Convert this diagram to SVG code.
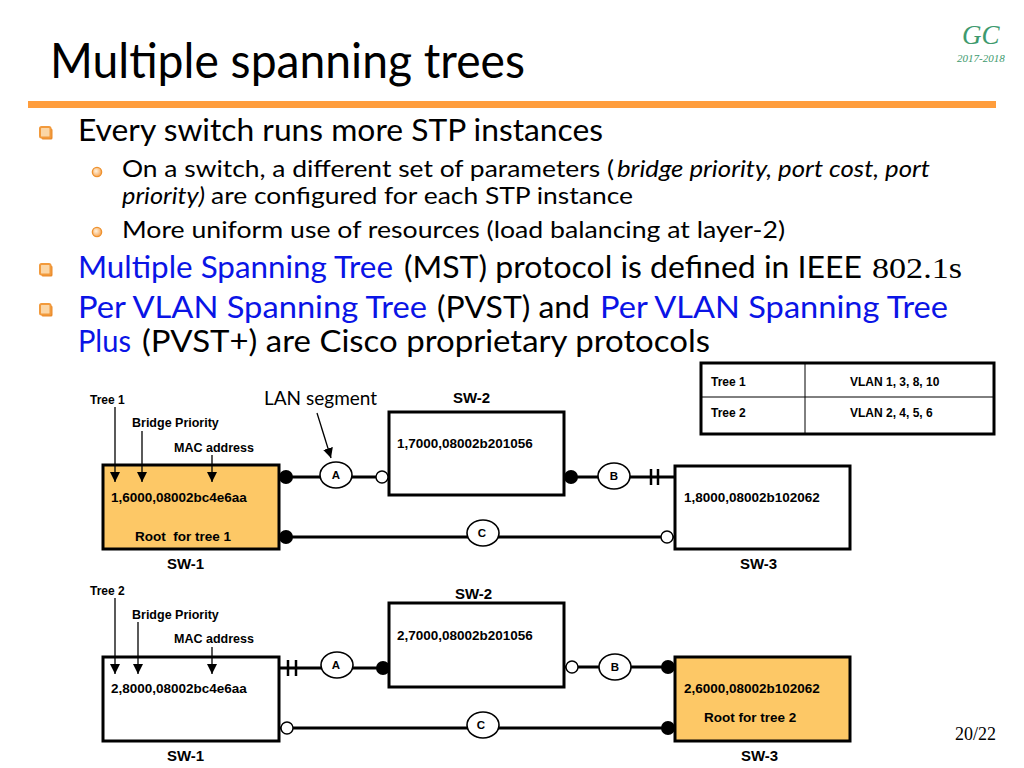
<svg xmlns="http://www.w3.org/2000/svg" width="1024" height="768" viewBox="0 0 1024 768">
<style>
.body{font-family:Lato,"Open Sans","DejaVu Sans",sans-serif;fill:#000}
.blue{fill:#0A14E6}
.it{font-style:italic}
.lbl{font-family:"Liberation Sans",Arial,sans-serif;font-weight:bold;fill:#000}
.box{stroke:#000;stroke-width:3;fill:#fff}
.root{fill:#FDC866}
.ln{stroke:#000;stroke-width:3;fill:none}
.thin{stroke:#000;stroke-width:1.3;fill:none}
.seg{fill:#fff;stroke:#000;stroke-width:1.6}
.dot{fill:#000}
.port{fill:#fff;stroke:#000;stroke-width:1.4}
.blk{stroke:#000;stroke-width:2.5}
</style>
<defs>
<marker id="ah" viewBox="0 0 10 10" refX="10" refY="5" markerWidth="10" markerHeight="10" markerUnits="userSpaceOnUse" orient="auto"><path d="M0,0 L10,5 L0,10 z" fill="#000"/></marker>
<g id="sq"><rect x="1.5" y="1.5" width="11" height="11" rx="1.5" fill="#E98A2A"/><rect x="0" y="0" width="10.5" height="10.5" rx="1.5" fill="#FBD6A6" stroke="#F29A3C" stroke-width="2"/></g>
<radialGradient id="cg" cx="0.4" cy="0.4" r="0.6"><stop offset="0" stop-color="#FFF3E0"/><stop offset="1" stop-color="#F7A85A"/></radialGradient>
<g id="ci"><circle cx="0" cy="0" r="4.6" fill="url(#cg)" stroke="#EE922F" stroke-width="1.4"/></g>
</defs>
<rect width="1024" height="768" fill="#fff"/>

<!-- header -->
<g id="header">
<text x="50" y="78" class="body" font-size="48" textLength="475" lengthAdjust="spacingAndGlyphs">Multiple spanning trees</text>
<text x="962" y="44" font-family="'Liberation Serif',serif" font-style="italic" font-size="27" fill="#3E9A6E">GC</text>
<text x="957" y="62" font-family="'Liberation Serif',serif" font-style="italic" font-size="11" fill="#3E9A6E">2017-2018</text>
<rect x="28" y="101" width="968" height="7" fill="#FF9D3C"/>
</g>

<!-- bullet text -->
<g id="bullets">
<use href="#sq" x="40" y="127"/>
<text class="body" font-size="30" y="141"><tspan x="78" textLength="525" lengthAdjust="spacingAndGlyphs">Every switch runs more STP instances</tspan></text>
<use href="#ci" x="97" y="172"/>
<text class="body" font-size="24" y="177"><tspan x="122" textLength="492" lengthAdjust="spacingAndGlyphs">On a switch, a different set of parameters (</tspan><tspan x="617" class="it" textLength="313" lengthAdjust="spacingAndGlyphs">bridge priority, port cost, port</tspan></text>
<text class="body" font-size="24" y="204"><tspan x="122" class="it" textLength="83" lengthAdjust="spacingAndGlyphs">priority)</tspan><tspan x="211" textLength="422" lengthAdjust="spacingAndGlyphs">are configured for each STP instance</tspan></text>
<use href="#ci" x="97" y="232"/>
<text class="body" font-size="24" y="238"><tspan x="122" textLength="663" lengthAdjust="spacingAndGlyphs">More uniform use of resources (load balancing at layer-2)</tspan></text>
<use href="#sq" x="40" y="264"/>
<text class="body" font-size="30" y="278"><tspan x="78" class="blue" textLength="315" lengthAdjust="spacingAndGlyphs">Multiple Spanning Tree</tspan><tspan x="404" textLength="458" lengthAdjust="spacingAndGlyphs">(MST) protocol is defined in IEEE</tspan><tspan x="872" font-family="'Liberation Serif',serif" textLength="90" lengthAdjust="spacingAndGlyphs">802.1s</tspan></text>
<use href="#sq" x="40" y="304"/>
<text class="body" font-size="30" y="318"><tspan x="78" class="blue" textLength="349" lengthAdjust="spacingAndGlyphs">Per VLAN Spanning Tree</tspan><tspan x="437" textLength="153" lengthAdjust="spacingAndGlyphs">(PVST) and</tspan><tspan x="600" class="blue" textLength="348" lengthAdjust="spacingAndGlyphs">Per VLAN Spanning Tree</tspan></text>
<text class="body" font-size="30" y="352"><tspan x="78" class="blue" textLength="53" lengthAdjust="spacingAndGlyphs">Plus</tspan><tspan x="142" textLength="568" lengthAdjust="spacingAndGlyphs">(PVST+) are Cisco proprietary protocols</tspan></text>
</g>

<!-- VLAN table -->
<g id="vlan-table">
<rect x="701" y="363" width="293" height="71" fill="#fff" stroke="#000" stroke-width="3"/>
<line x1="805" y1="363" x2="805" y2="434" stroke="#000" stroke-width="1"/>
<line x1="701" y1="397" x2="994" y2="397" stroke="#000" stroke-width="1"/>
<text class="lbl" font-size="12" x="711" y="386">Tree 1</text>
<text class="lbl" font-size="12" x="850" y="386">VLAN 1, 3, 8, 10</text>
<text class="lbl" font-size="12" x="711" y="417">Tree 2</text>
<text class="lbl" font-size="12" x="850" y="417">VLAN 2, 4, 5, 6</text>
</g>

<g id="connectors">
<!-- tree 1 -->
<line class="ln" x1="279" y1="477" x2="389" y2="477"/>
<line class="ln" x1="564" y1="477" x2="675" y2="477"/>
<line class="ln" x1="279" y1="537" x2="675" y2="537"/>
<!-- tree 2 -->
<line class="ln" x1="279" y1="668" x2="389" y2="668"/>
<line class="ln" x1="564" y1="667" x2="675" y2="667"/>
<line class="ln" x1="279" y1="728" x2="675" y2="728"/>
</g>

<!-- ===== Tree 1 ===== -->
<g id="labels-t1">
<text class="lbl" font-size="12" x="90" y="404">Tree 1</text>
<text class="lbl" font-size="12.5" x="132" y="427">Bridge Priority</text>
<text class="lbl" font-size="12.5" x="174" y="452">MAC address</text>
<text class="body" font-size="19" x="264" y="405">LAN segment</text>
</g>

<g id="sw1-t1">
<rect class="box root" x="103" y="465" width="176" height="84"/>
<text class="lbl" font-size="13.5" x="111" y="502">1,6000,08002bc4e6aa</text>
<text class="lbl" font-size="13.5" x="135" y="541" xml:space="preserve">Root  for tree 1</text>
<text class="lbl" font-size="15" x="167" y="569">SW-1</text>
</g>
<g id="sw2-t1">
<rect class="box" x="389" y="412" width="175" height="83"/>
<text class="lbl" font-size="13.5" x="397" y="448">1,7000,08002b201056</text>
<text class="lbl" font-size="15" x="453" y="403">SW-2</text>
</g>
<g id="sw3-t1">
<rect class="box" x="675" y="466" width="175" height="83"/>
<text class="lbl" font-size="13.5" x="684" y="502">1,8000,08002b102062</text>
<text class="lbl" font-size="15" x="740" y="569">SW-3</text>
</g>

<g id="ports-t1">
<circle class="dot" cx="286" cy="477" r="7"/>
<circle class="port" cx="382" cy="477" r="6"/>
<circle class="dot" cx="571" cy="477" r="7"/>
<line class="blk" x1="651" y1="469" x2="651" y2="485"/>
<line class="blk" x1="658" y1="469" x2="658" y2="485"/>
<circle class="dot" cx="286" cy="537" r="7"/>
<circle class="port" cx="667" cy="537" r="6"/>
</g>
<g id="seg-A1"><ellipse class="seg" cx="336" cy="475" rx="16" ry="13"/><text class="lbl" font-size="11.5" x="336" y="479" text-anchor="middle">A</text></g>
<g id="seg-B1"><ellipse class="seg" cx="614" cy="476" rx="16" ry="13"/><text class="lbl" font-size="11.5" x="614" y="480" text-anchor="middle">B</text></g>
<g id="seg-C1"><ellipse class="seg" cx="483" cy="533" rx="16" ry="13"/><text class="lbl" font-size="11.5" x="482" y="537" text-anchor="middle">C</text></g>

<!-- ===== Tree 2 ===== -->
<g id="labels-t2">
<text class="lbl" font-size="12" x="90" y="595">Tree 2</text>
<text class="lbl" font-size="12.5" x="132" y="619">Bridge Priority</text>
<text class="lbl" font-size="12.5" x="174" y="643">MAC address</text>
</g>
<g id="sw1-t2">
<rect class="box" x="103" y="657" width="176" height="84"/>
<text class="lbl" font-size="13.5" x="111" y="693">2,8000,08002bc4e6aa</text>
<text class="lbl" font-size="15" x="167" y="761">SW-1</text>
</g>
<g id="sw2-t2">
<rect class="box" x="389" y="603" width="175" height="84"/>
<text class="lbl" font-size="13.5" x="397" y="640">2,7000,08002b201056</text>
<text class="lbl" font-size="15" x="455" y="599">SW-2</text>
</g>
<g id="sw3-t2">
<rect class="box root" x="675" y="657" width="175" height="84"/>
<text class="lbl" font-size="13.5" x="684" y="693">2,6000,08002b102062</text>
<text class="lbl" font-size="13.5" x="704" y="722">Root for tree 2</text>
<text class="lbl" font-size="15" x="741" y="761">SW-3</text>
</g>
<g id="ports-t2">
<line class="blk" x1="288" y1="660" x2="288" y2="676"/>
<line class="blk" x1="296" y1="660" x2="296" y2="676"/>
<circle class="dot" cx="383" cy="668" r="7"/>
<circle class="port" cx="572" cy="667" r="6"/>
<circle class="dot" cx="668" cy="667" r="7"/>
<circle class="port" cx="287" cy="728" r="6"/>
<circle class="dot" cx="668" cy="728" r="7"/>
</g>
<g id="seg-A2"><ellipse class="seg" cx="337" cy="665" rx="16" ry="13"/><text class="lbl" font-size="11.5" x="336" y="669" text-anchor="middle">A</text></g>
<g id="seg-B2"><ellipse class="seg" cx="615" cy="667" rx="16" ry="13"/><text class="lbl" font-size="11.5" x="615" y="671" text-anchor="middle">B</text></g>
<g id="seg-C2"><ellipse class="seg" cx="483" cy="725" rx="16" ry="13"/><text class="lbl" font-size="11.5" x="481" y="729" text-anchor="middle">C</text></g>

<g id="label-arrows">
<line class="thin" x1="115" y1="407" x2="115" y2="482" marker-end="url(#ah)"/>
<line class="thin" x1="142" y1="431" x2="142" y2="482" marker-end="url(#ah)"/>
<line class="thin" x1="212" y1="455" x2="212" y2="482" marker-end="url(#ah)"/>
<line class="thin" x1="317" y1="413" x2="331" y2="458" marker-end="url(#ah)"/>
<line class="thin" x1="115" y1="598" x2="115" y2="674" marker-end="url(#ah)"/>
<line class="thin" x1="138" y1="622" x2="138" y2="674" marker-end="url(#ah)"/>
<line class="thin" x1="212" y1="647" x2="212" y2="674" marker-end="url(#ah)"/>
</g>

<text x="955" y="740" font-family="'Liberation Serif',serif" font-size="18">20/22</text>
</svg>
